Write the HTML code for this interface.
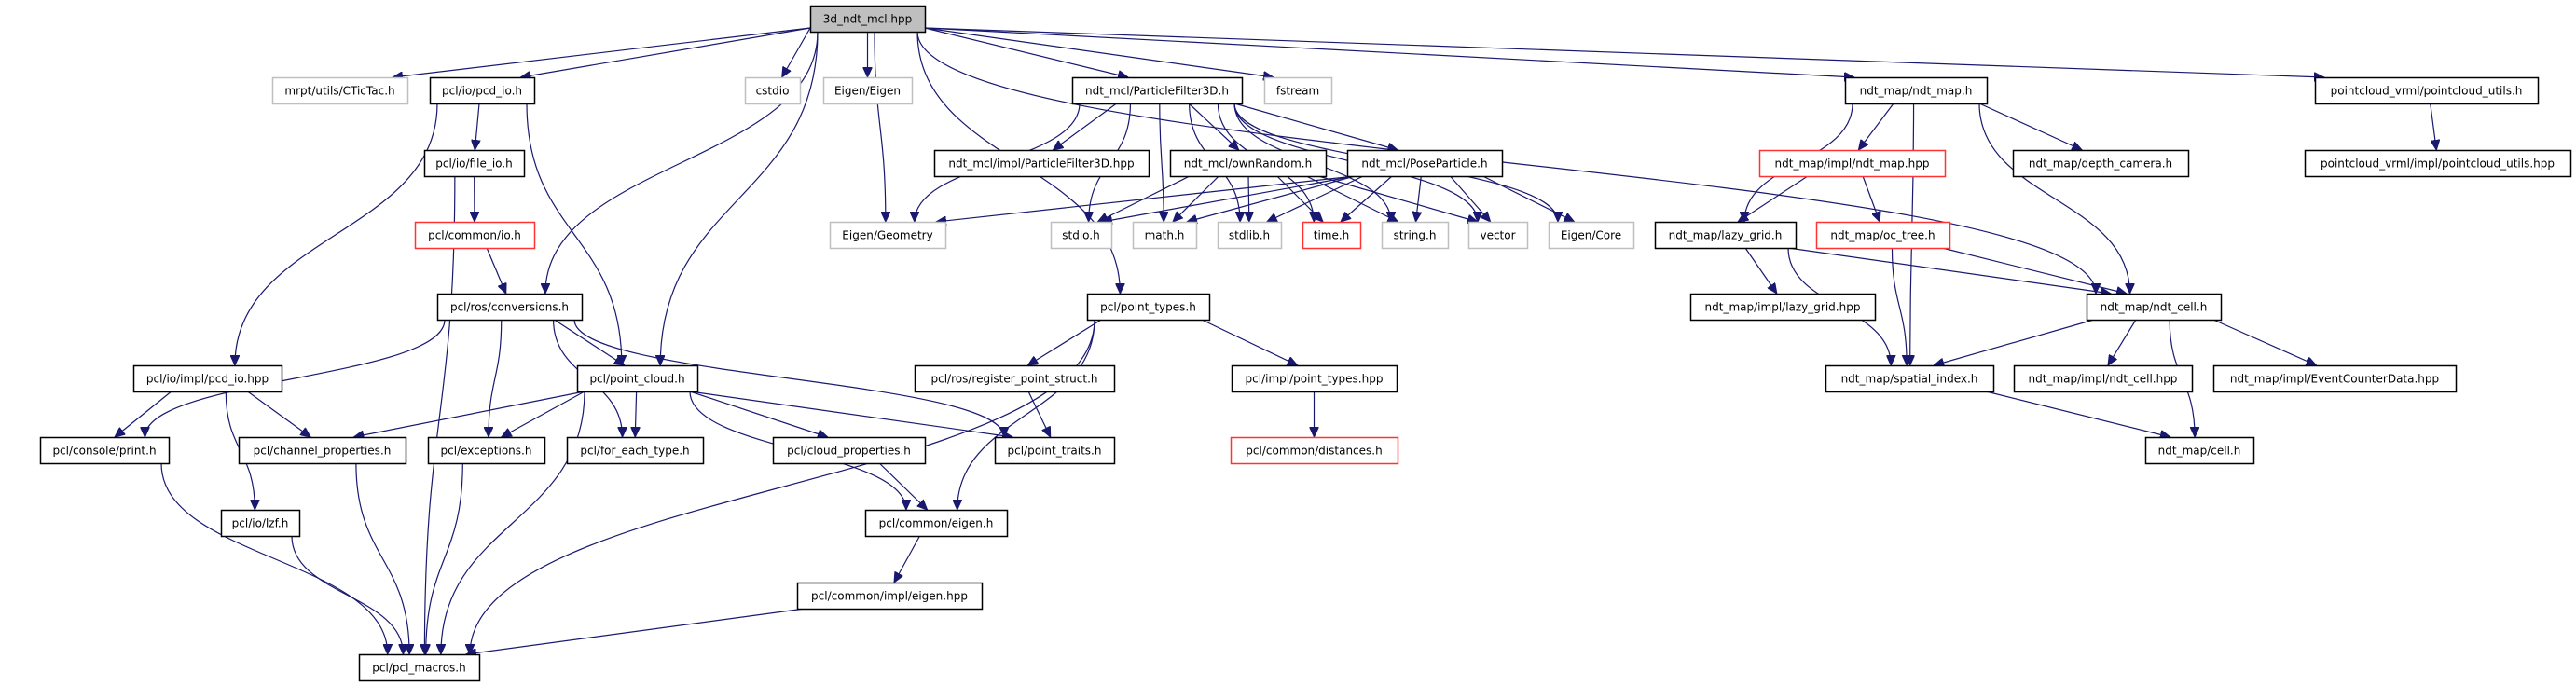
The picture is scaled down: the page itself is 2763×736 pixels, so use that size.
<!DOCTYPE html>
<html><head><meta charset="utf-8"><style>
html,body{margin:0;padding:0;background:#fff;}
svg{display:block;}
text{font-family:"DejaVu Sans","Liberation Sans",sans-serif;font-size:12px;}
</style></head><body>
<svg id="g" width="2763" height="736" xmlns="http://www.w3.org/2000/svg">
<defs><marker id="a" markerUnits="userSpaceOnUse" markerWidth="12" markerHeight="10" refX="11" refY="5" orient="auto"><path d="M0,0 L11,5 L0,10 z" fill="#191970" stroke="#191970"/></marker></defs>
<g id="edges" fill="none" stroke="#191970" stroke-width="1.2"></g>
<g id="nodes"></g>
</svg>
<script>
var R=[6,83,161,238,315,392,469,547,625,702],H=28;
var N={
root:['3d_ndt_mcl.hpp',869,992,0,'root'],
ctictac:['mrpt/utils/CTicTac.h',292,437,1,'g'],
pcdio:['pcl/io/pcd_io.h',461,573,1],
cstdio:['cstdio',799,858,1,'g'],
eigen:['Eigen/Eigen',883,978,1,'g'],
pf3d:['ndt_mcl/ParticleFilter3D.h',1150,1332,1],
fstream:['fstream',1356,1428,1,'g'],
ndtmap:['ndt_map/ndt_map.h',1979,2131,1],
pcutils:['pointcloud_vrml/pointcloud_utils.h',2483,2722,1],
fileio:['pcl/io/file_io.h',455,562,2],
pf3dhpp:['ndt_mcl/impl/ParticleFilter3D.hpp',1002,1232,2],
ownrand:['ndt_mcl/ownRandom.h',1255,1422,2],
pose:['ndt_mcl/PoseParticle.h',1445,1611,2],
ndtmaphpp:['ndt_map/impl/ndt_map.hpp',1887,2086,2,'r'],
depthcam:['ndt_map/depth_camera.h',2159,2347,2],
pcutilshpp:['pointcloud_vrml/impl/pointcloud_utils.hpp',2472,2757,2],
commonio:['pcl/common/io.h',445,573,3,'r'],
geom:['Eigen/Geometry',890,1014,3,'g'],
stdio:['stdio.h',1127,1192,3,'g'],
math:['math.h',1215,1283,3,'g'],
stdlib:['stdlib.h',1306,1374,3,'g'],
time:['time.h',1397,1459,3,'r'],
string:['string.h',1482,1553,3,'g'],
vector:['vector',1575,1638,3,'g'],
core:['Eigen/Core',1661,1752,3,'g'],
lazygrid:['ndt_map/lazy_grid.h',1775,1926,3],
octree:['ndt_map/oc_tree.h',1948,2091,3,'r'],
conv:['pcl/ros/conversions.h',469,624,4],
pointtypes:['pcl/point_types.h',1166,1297,4],
lazyhpp:['ndt_map/impl/lazy_grid.hpp',1813,2011,4],
ndtcell:['ndt_map/ndt_cell.h',2238,2382,4],
pcdiohpp:['pcl/io/impl/pcd_io.hpp',143,302,5],
pointcloud:['pcl/point_cloud.h',619,748,5],
regps:['pcl/ros/register_point_struct.h',981,1195,5],
ptypeshpp:['pcl/impl/point_types.hpp',1321,1498,5],
spatial:['ndt_map/spatial_index.h',1958,2138,5],
ndtcellhpp:['ndt_map/impl/ndt_cell.hpp',2160,2351,5],
evc:['ndt_map/impl/EventCounterData.hpp',2374,2634,5],
print:['pcl/console/print.h',43,181,6],
chan:['pcl/channel_properties.h',256,435,6],
exc:['pcl/exceptions.h',459,584,6],
foreach:['pcl/for_each_type.h',608,754,6],
cloudprops:['pcl/cloud_properties.h',829,992,6],
traits:['pcl/point_traits.h',1067,1195,6],
dist:['pcl/common/distances.h',1320,1499,6,'r'],
cell:['ndt_map/cell.h',2301,2417,6],
lzf:['pcl/io/lzf.h',237,321,7],
ceigen:['pcl/common/eigen.h',928,1080,7],
ceigenhpp:['pcl/common/impl/eigen.hpp',855,1053,8],
macros:['pcl/pcl_macros.h',385,514,9]
};
var E=[
['root','ctictac'],['root','pcdio'],['root','cstdio'],['root','eigen'],['root','pf3d'],['root','fstream'],['root','ndtmap'],['root','pcutils'],['root','conv'],['root','pointcloud'],['root','pointtypes'],['root','geom'],['root','ndtcell'],
['pcdio','fileio'],['pcdio','pcdiohpp'],['pcdio','pointcloud'],
['fileio','commonio'],['fileio','macros'],['commonio','conv'],
['conv','print'],['conv','pointcloud'],['conv','exc'],['conv','foreach'],['conv','traits'],
['pcdiohpp','print'],['pcdiohpp','chan'],['pcdiohpp','lzf'],
['pointcloud','chan'],['pointcloud','exc'],['pointcloud','foreach'],['pointcloud','cloudprops'],['pointcloud','traits'],['pointcloud','ceigen'],['pointcloud','macros'],
['print','macros'],['chan','macros'],['exc','macros'],['lzf','macros'],
['cloudprops','ceigen'],['ceigen','ceigenhpp'],['ceigenhpp','macros'],
['pointtypes','regps'],['pointtypes','ptypeshpp'],['pointtypes','ceigen'],['pointtypes','macros'],
['regps','traits'],['ptypeshpp','dist'],
['pf3d','pf3dhpp'],['pf3d','ownrand'],['pf3d','pose'],['pf3d','geom'],['pf3d','stdio'],['pf3d','math'],['pf3d','stdlib'],['pf3d','time'],['pf3d','string'],['pf3d','vector'],['pf3d','core'],
['ownrand','stdio'],['ownrand','math'],['ownrand','stdlib'],['ownrand','time'],['ownrand','string'],['ownrand','vector'],
['pose','geom'],['pose','stdio'],['pose','math'],['pose','stdlib'],['pose','time'],['pose','string'],['pose','vector'],['pose','core'],
['ndtmap','ndtmaphpp'],['ndtmap','depthcam'],['ndtmap','lazygrid'],['ndtmap','spatial'],['ndtmap','ndtcell'],
['ndtmaphpp','lazygrid'],['ndtmaphpp','octree'],
['lazygrid','lazyhpp'],['lazygrid','ndtcell'],['lazygrid','spatial'],
['octree','ndtcell'],['octree','spatial'],
['ndtcell','spatial'],['ndtcell','ndtcellhpp'],['ndtcell','evc'],['ndtcell','cell'],
['spatial','cell'],['pcutils','pcutilshpp']
];
var ns='http://www.w3.org/2000/svg';
var eg=document.getElementById('edges'),ng=document.getElementById('nodes');
function cl(v,a,b){return Math.max(a,Math.min(b,v));}
E.forEach(function(e){
 var s=N[e[0]],t=N[e[1]];
 var scx=(s[1]+s[2])/2,tcx=(t[1]+t[2])/2;
 var sy=R[s[3]]+H,ty=R[t[3]];
 var dy=ty-sy, rows=t[3]-s[3];
 var sx=cl(scx+(tcx-scx)*0.35,s[1]+8,s[2]-8);
 var tx=cl(tcx+(scx-tcx)*0.1,t[1]+10,t[2]-10);
 var d;
 if(e[0]=='root' && (tcx<s[1]||tcx>s[2]) && rows==1){
   var side=tcx<scx?s[1]:s[2];
   var y0=R[s[3]]+H-4;
   d='M'+side+','+y0+' L'+tx+','+ty;
 } else if(rows==1){
   d='M'+sx+','+sy+' L'+tx+','+ty;
 } else {
   d='M'+sx+','+sy+' C'+sx+','+(sy+dy*0.5)+' '+tx+','+(ty-dy*0.5)+' '+tx+','+ty;
 }
 var p=document.createElementNS(ns,'path');
 p.setAttribute('d',d);p.setAttribute('marker-end','url(#a)');
 eg.appendChild(p);
});
for(var k in N){
 var n=N[k],x=n[1],w=n[2]-n[1],y=R[n[3]];
 var r=document.createElementNS(ns,'rect');
 r.setAttribute('x',x+0.5);r.setAttribute('y',y+0.5);r.setAttribute('width',w);r.setAttribute('height',H);
 var st=n[4];
 r.setAttribute('fill',st=='root'?'#bfbfbf':'#fff');
 r.setAttribute('stroke',st=='g'?'#bfbfbf':st=='r'?'#ff3333':'#000');
 r.setAttribute('stroke-width',1.5);
 ng.appendChild(r);
 var t=document.createElementNS(ns,'text');
 t.setAttribute('x',x+w/2);t.setAttribute('y',y+H/2+4.5);t.setAttribute('text-anchor','middle');
 t.textContent=n[0];ng.appendChild(t);
}
</script>
</body></html>
